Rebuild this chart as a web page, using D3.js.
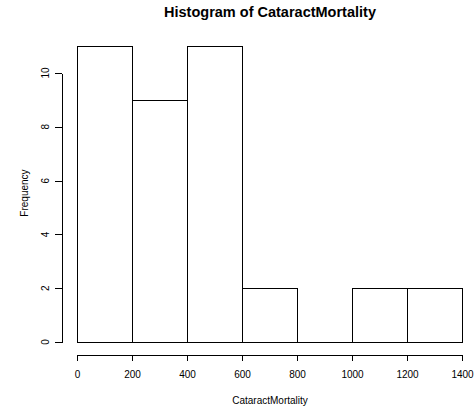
<!DOCTYPE html>
<html>
<head>
<meta charset="utf-8">
<title>Histogram of CataractMortality</title>
<script src="https://d3js.org/d3.v7.min.js"></script>
<style>
  body { margin: 0; background: #fff; }
  svg { display: block; font-family: "Liberation Sans", Arial, sans-serif; }
  .axis path, .axis line { stroke: #000; shape-rendering: crispEdges; }
  .axis text { fill: #000; font-size: 10px; }
</style>
</head>
<body>
<svg id="chart" width="475" height="411"></svg>
<script>
// histogram bins (lower edge, upper edge) and counts
var binStarts = [0, 200, 400, 600, 800, 1000, 1200];
var binEnds = [200, 400, 600, 800, 1000, 1200, 1400];
var counts = [11, 9, 11, 2, 0, 2, 2];
var xTicks = [0, 200, 400, 600, 800, 1000, 1200, 1400];
var yTicks = [0, 2, 4, 6, 8, 10];

var bins = binStarts.map(function(s, i) {
  return { x0: s, x1: binEnds[i], n: counts[i] };
});

var svg = d3.select("#chart");

var x = d3.scaleLinear().domain([0, 1400]).range([77, 462]);
var y = d3.scaleLinear().domain([0, 10]).range([342, 73]);

// bars drawn as closed paths so an empty bin still shows its baseline
svg.append("g")
  .selectAll("path")
  .data(bins)
  .enter()
  .append("path")
    .attr("d", function(d) {
      var l = Math.round(x(d.x0)) + 0.5, r = Math.round(x(d.x1)) + 0.5;
      var t = Math.round(y(d.n)) + 0.5, b = Math.round(y(0)) + 0.5;
      return "M" + l + "," + b + "V" + t + "H" + r + "V" + b + "Z";
    })
    .attr("fill", "#fff")
    .attr("stroke", "#000")
    .attr("stroke-width", 1.2)
    .attr("shape-rendering", "crispEdges");

// x axis
var xAxis = svg.append("g")
  .attr("class", "axis")
  .attr("transform", "translate(0,355)")
  .call(d3.axisBottom(x).tickValues(xTicks).tickSize(6).tickSizeOuter(0).tickFormat(d3.format("d")));
xAxis.selectAll("text").attr("dy", "0").attr("y", 23);

// y axis
var yAxis = svg.append("g")
  .attr("class", "axis")
  .attr("transform", "translate(62,0)")
  .call(d3.axisLeft(y).tickValues(yTicks).tickSize(7).tickSizeOuter(0));
yAxis.selectAll("text")
  .attr("x", 0).attr("dy", "0")
  .attr("text-anchor", "middle")
  .attr("transform", function(d) { return "translate(-17," + y(d) + ") rotate(-90)"; })
  .attr("y", 3.5);
yAxis.selectAll(".tick").attr("transform", null);
yAxis.selectAll(".tick line").attr("transform", function(d) { return "translate(0," + (Math.round(y(d)) + 0.5) + ")"; });

// title
svg.append("text")
  .attr("x", 270)
  .attr("y", 17)
  .attr("text-anchor", "middle")
  .style("font-size", "14.5px")
  .style("font-weight", "bold")
  .text("Histogram of CataractMortality");

// axis titles
svg.append("text")
  .attr("x", 270)
  .attr("y", 404)
  .attr("text-anchor", "middle")
  .style("font-size", "10px")
  .text("CataractMortality");

svg.append("text")
  .attr("transform", "translate(28,193) rotate(-90)")
  .attr("text-anchor", "middle")
  .style("font-size", "10px")
  .text("Frequency");
</script>
</body>
</html>
